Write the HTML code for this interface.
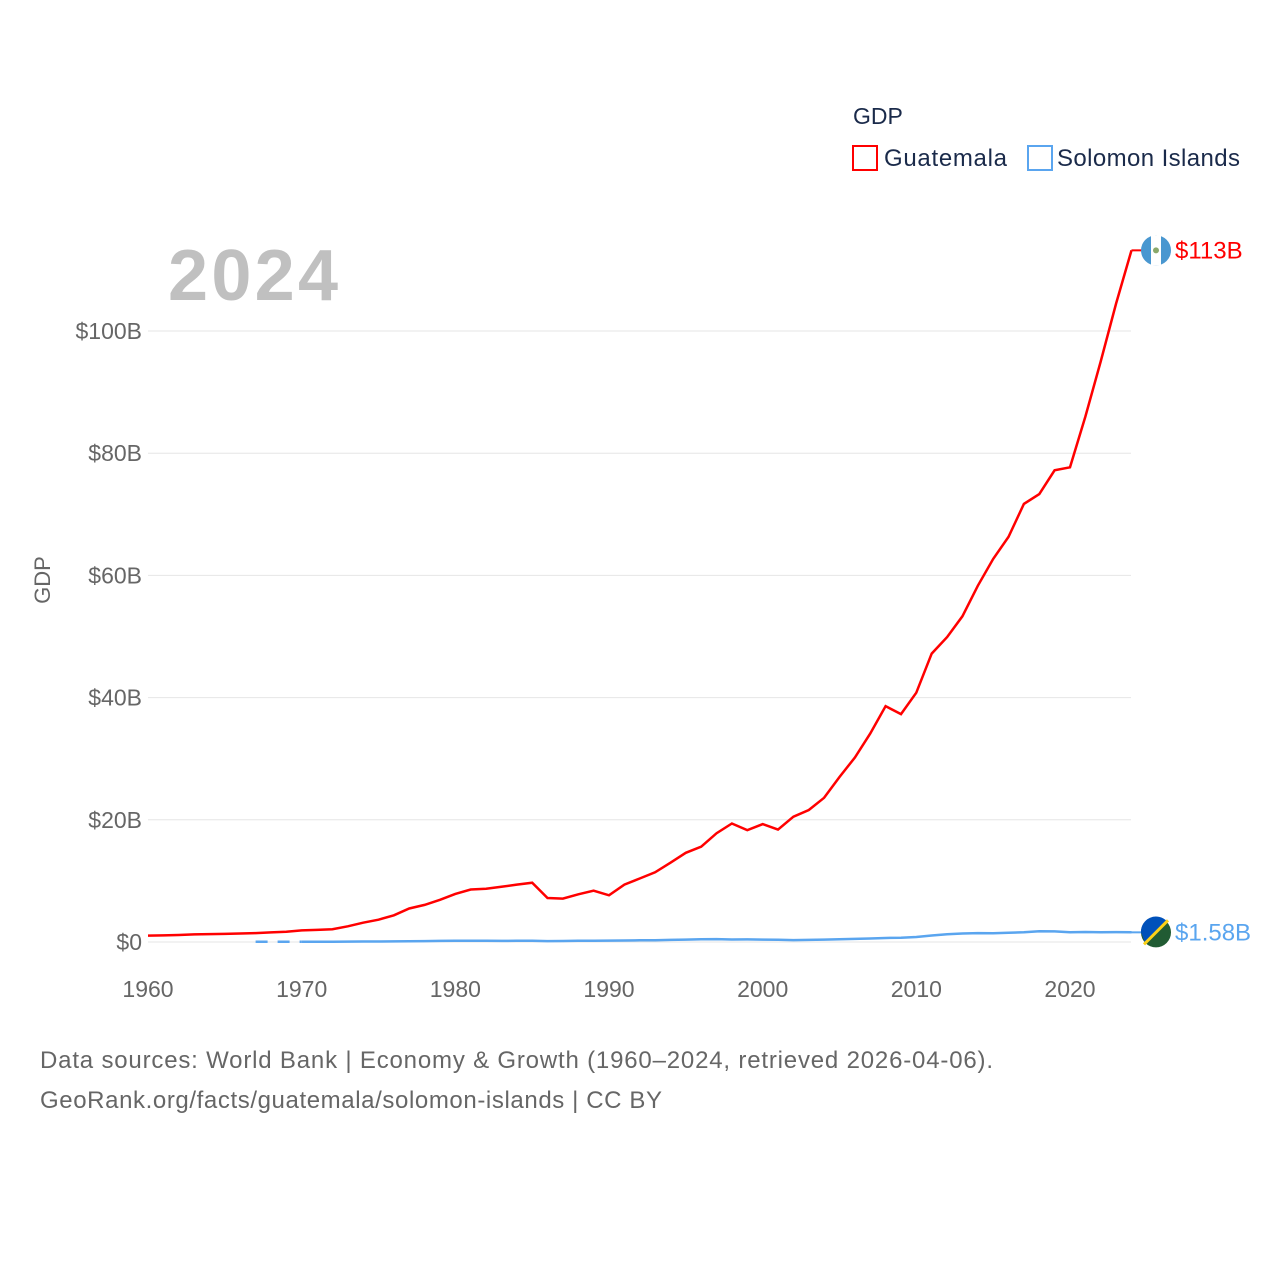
<!DOCTYPE html>
<html><head><meta charset="utf-8"><style>
body{margin:0;background:#fff;font-family:"Liberation Sans",sans-serif}
svg{display:block}
</style></head><body>
<svg id="chart" width="1280" height="1280">
<text x="853" y="124" font-size="23" fill="#1a2a4a">GDP</text>
<g><rect x="853" y="146" width="24" height="24" fill="none" stroke="#ff0000" stroke-width="2"/><text x="884" y="166" font-size="24" fill="#1a2a4a" textLength="123">Guatemala</text></g>
<g><rect x="1028" y="146" width="24" height="24" fill="none" stroke="#5aa5ef" stroke-width="2"/><text x="1057" y="166" font-size="24" fill="#1a2a4a" textLength="183">Solomon Islands</text></g>
<text x="168" y="300" font-size="72" font-weight="bold" fill="#c0c0c0" textLength="170">2024</text>
<text transform="translate(50,580) rotate(-90)" text-anchor="middle" font-size="22" fill="#666">GDP</text>
<g id="grid"></g><g id="series"></g>
<text x="40" y="1068" font-size="24" fill="#666" textLength="953">Data sources: World Bank | Economy &amp; Growth (1960–2024, retrieved 2026-04-06).</text>
<text x="40" y="1108" font-size="24" fill="#666" textLength="622">GeoRank.org/facts/guatemala/solomon-islands | CC BY</text>
</svg>
<script>
const yTicks=[0,20,40,60,80,100];
const yTickLabels=["$0","$20B","$40B","$60B","$80B","$100B"];
const xTicks=[1960,1970,1980,1990,2000,2010,2020];
const gtmYears=[];for(let y=1960;y<=2024;y++)gtmYears.push(y);
const gtm=[1.04,1.08,1.14,1.25,1.30,1.33,1.39,1.45,1.57,1.67,1.9,1.98,2.1,2.57,3.16,3.65,4.37,5.48,6.07,6.9,7.88,8.6,8.72,9.03,9.4,9.7,7.2,7.1,7.8,8.4,7.65,9.4,10.4,11.4,12.98,14.6,15.6,17.8,19.4,18.3,19.3,18.4,20.5,21.6,23.6,27,30.2,34.1,38.6,37.3,40.8,47.2,49.9,53.3,58.3,62.7,66.3,71.7,73.3,77.2,77.7,86.0,95.0,104.5,113.2];
const slbYears=[];for(let y=1967;y<=2024;y++)slbYears.push(y);
const slb=[0.03,0.03,0.035,0.04,0.04,0.05,0.06,0.08,0.09,0.1,0.11,0.14,0.18,0.2,0.22,0.21,0.18,0.2,0.19,0.15,0.16,0.2,0.22,0.23,0.25,0.28,0.3,0.35,0.4,0.45,0.48,0.41,0.43,0.4,0.36,0.31,0.34,0.39,0.46,0.5,0.58,0.65,0.71,0.82,1.07,1.26,1.39,1.45,1.44,1.51,1.61,1.76,1.74,1.6,1.63,1.6,1.62,1.58];
const X=y=>148+(y-1960)*(1070-148)/60;
const Y=v=>942-v*(942-331)/100;
const NS="http://www.w3.org/2000/svg";
function mk(t,a,p){const e=document.createElementNS(NS,t);for(const k in a)e.setAttribute(k,a[k]);p.appendChild(e);return e;}
const grid=document.getElementById('grid'),ser=document.getElementById('series');
yTicks.forEach((v,i)=>{
 const l=mk('line',{x1:148,x2:1131,y1:Y(v),y2:Y(v),stroke:'#e6e6e6','stroke-width':1},grid);
 
 
 const t=mk('text',{x:142,y:Y(v)+8,'text-anchor':'end','font-size':23,fill:'#666'},grid);t.textContent=yTickLabels[i];
 
 
});
xTicks.forEach(y=>{
 const t=mk('text',{x:X(y),y:997,'text-anchor':'middle','font-size':23,fill:'#666'},grid);t.textContent=y;
 
 
});
function pts(ys,vs,s,e){return ys.slice(s,e).map((y,i)=>X(y).toFixed(1)+','+Y(vs[s+i]).toFixed(1)).join(' ');}
const sd=mk('polyline',{points:pts(slbYears,slb,0,4),fill:'none',stroke:'#5aa5ef','stroke-width':2.5,'stroke-dasharray':'12,10'},ser);


const sl=mk('polyline',{points:pts(slbYears,slb,3,slb.length),fill:'none',stroke:'#5aa5ef','stroke-width':2.5},ser);


const gl=mk('polyline',{points:pts(gtmYears,gtm,0,gtm.length),fill:'none',stroke:'#ff0000','stroke-width':2.5},ser);


const gx=X(2024),gy=Y(gtm[gtm.length-1]),sy=Y(slb[slb.length-1]);
mk('line',{x1:gx,x2:gx+10,y1:gy,y2:gy,stroke:'#ff0000','stroke-width':2},ser);
mk('line',{x1:gx,x2:gx+10,y1:sy,y2:sy,stroke:'#5aa5ef','stroke-width':2},ser);
const gf=mk('g',{},ser);


mk('circle',{cx:1156,cy:gy,r:15,fill:'#4997d0'},gf);
mk('rect',{x:1151,y:gy-15,width:10,height:30,fill:'#fff'},gf);
mk('circle',{cx:1156,cy:gy,r:3,fill:'#8aa86a'},gf);
const gt=mk('text',{x:1175,y:gy+8,'font-size':24,fill:'#ff0000'},ser);gt.textContent='$113B';


const sf=mk('g',{},ser);


mk('circle',{cx:1156,cy:sy,r:15,fill:'#215b33'},sf);
mk('path',{d:`M1141,${sy} A15,15 0 0 1 1167,${sy-11} L1145,${sy+10} Z`,fill:'#0051ba'},sf);
mk('line',{x1:1144,y1:sy+12,x2:1168,y2:sy-12,stroke:'#fcd116','stroke-width':3},sf);
const st=mk('text',{x:1175,y:sy+8,'font-size':24,fill:'#5aa5ef'},ser);st.textContent='$1.58B';


</script>
</body></html>
